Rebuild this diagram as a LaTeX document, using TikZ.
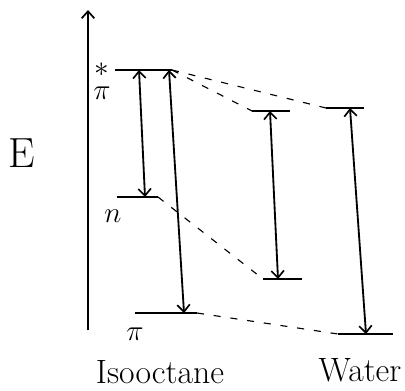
\documentclass[tikz,border=0pt]{standalone}
\usepackage{amsmath}
\usetikzlibrary{arrows.meta}

\begin{document}
\begin{tikzpicture}[x=0.025cm, y=-0.025cm, line width=1.3pt,
    barb/.tip={Straight Barb[length=5pt, width=9pt, line width=1.2pt]},
    level/.style={line width=1.5pt},
    trans/.style={barb-barb},
    link/.style={line width=0.8pt, dash pattern=on 5pt off 7pt},
    lbl/.style={font=\fontsize{20}{24}\selectfont},
    solvent/.style={font=\fontsize{24}{28}\selectfont}]
    \useasboundingbox (0,0) rectangle (405,390);
    % energy axis
    \coordinate (e0) at (88,330);
    \coordinate (e1) at (88,10);
    \draw[-barb] (e0) -- (e1);
    \node[font=\fontsize{30}{32}\selectfont] at(22,153)(E){E};
    % isooctane levels
    \coordinate (isoPsL) at (115,70);
    \coordinate (isoPsR) at (172,70);
    \coordinate (isoNL) at (117,197);
    \coordinate (isoNR) at (158,197);
    \coordinate (isoPL) at (135,313);
    \coordinate (isoPR) at (197,313);
    \draw[level] (isoPsL) -- (isoPsR);
    \draw[level] (isoNL) -- (isoNR);
    \draw[level] (isoPL) -- (isoPR);
    \node[lbl, inner sep=0pt] at(102,80)(isoPsT){$\overset{\raisebox{3pt}{$*$}}{\pi}$};
    \node[lbl] at(113,216)(isoNT){$n$};
    \node[lbl] at(135,334)(isoPT){$\pi$};
    % water levels
    \coordinate (watPsAL) at (252,111);
    \coordinate (watPsAR) at (290,111);
    \coordinate (watPsBL) at (326,108);
    \coordinate (watPsBR) at (364,108);
    \coordinate (watNL) at (263,279);
    \coordinate (watNR) at (302,279);
    \coordinate (watPL) at (338,334);
    \coordinate (watPR) at (393,334);
    \draw[level] (watPsAL) -- (watPsAR);
    \draw[level] (watPsBL) -- (watPsBR);
    \draw[level] (watNL) -- (watNR);
    \draw[level] (watPL) -- (watPR);
    % transitions
    \coordinate (t1) at (139,70);
    \coordinate (b1) at (145,197);
    \coordinate (t2) at (169,70);
    \coordinate (b2) at (184,313);
    \coordinate (t3) at (270,111);
    \coordinate (b3) at (278,279);
    \coordinate (t4) at (350,108);
    \coordinate (b4) at (366,334);
    \draw[trans] (b1) -- (t1);
    \draw[trans] (b2) -- (t2);
    \draw[trans] (b3) -- (t3);
    \draw[trans] (b4) -- (t4);
    % shifts between solvents
    \draw[link] (isoPsR) -- (watPsAL);
    \draw[link] (isoPsR) -- (watPsBL);
    \draw[link] (isoNR) -- (watNL);
    \draw[link] (isoPR) -- (watPL);
    % solvent names
    \node[solvent] at(160,372)(iso){Isooctane};
    \node[solvent] at(360,370)(wat){Water};
\end{tikzpicture}
\end{document}
